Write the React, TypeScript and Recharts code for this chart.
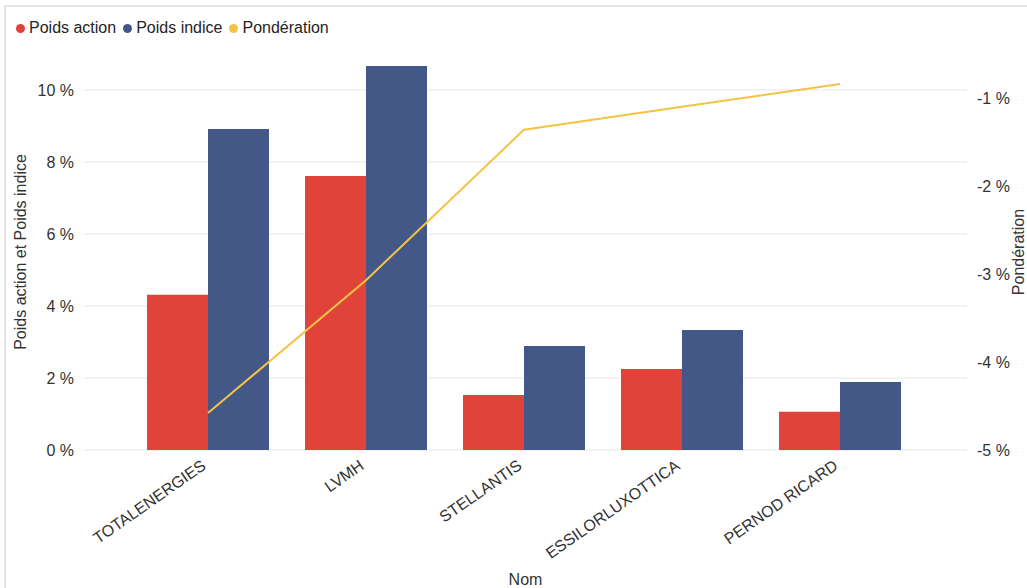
import React from "react";
import {
  ComposedChart,
  Bar,
  Line,
  XAxis,
  YAxis,
  CartesianGrid,
} from "recharts";

// valeurs
const noms = ["TOTALENERGIES", "LVMH", "STELLANTIS", "ESSILORLUXOTTICA", "PERNOD RICARD"];
const poidsAction = [4.31, 7.61, 1.53, 2.25, 1.06];
const poidsIndice = [8.92, 10.67, 2.89, 3.33, 1.89];
const ponderation = [-4.58, -3.07, -1.36, -1.1, -0.84];

const ticksGauche = [0, 2, 4, 6, 8, 10];
const ticksDroite = [-5, -4, -3, -2, -1];

const ROUGE = "#E0433A";
const BLEU = "#445887";
const JAUNE = "#F5C344";
const TEXTE = "#333333";
const FONT = "'Liberation Sans', Arial, sans-serif";

const data = noms.map((nom, i) => ({
  nom,
  action: poidsAction[i],
  indice: poidsIndice[i],
  ponderation: ponderation[i],
}));

const legende = [
  { label: "Poids action", color: ROUGE },
  { label: "Poids indice", color: BLEU },
  { label: "Pondération", color: JAUNE },
];

const XTick = ({ x, y, payload }: any) => {
  const px = x - 1;
  const py = y + 10;
  return (
    <text
      x={px}
      y={py}
      transform={`rotate(-35, ${px}, ${py})`}
      textAnchor="end"
      fontSize={16}
      fill={TEXTE}
      fontFamily={FONT}
    >
      {payload.value}
    </text>
  );
};

const LeftLabel = ({ viewBox }: any) => {
  const cy = viewBox.y + viewBox.height / 2;
  const cx = 20;
  return (
    <text
      x={cx}
      y={cy}
      transform={`rotate(-90, ${cx}, ${cy})`}
      textAnchor="middle"
      dominantBaseline="central"
      fontSize={16}
      fill={TEXTE}
      fontFamily={FONT}
    >
      Poids action et Poids indice
    </text>
  );
};

const RightLabel = ({ viewBox }: any) => {
  const cy = viewBox.y + viewBox.height / 2;
  const cx = 1018;
  return (
    <text
      x={cx}
      y={cy}
      transform={`rotate(-90, ${cx}, ${cy})`}
      textAnchor="middle"
      dominantBaseline="central"
      fontSize={16}
      fill={TEXTE}
      fontFamily={FONT}
    >
      Pondération
    </text>
  );
};

export default function App() {
  const tickStyle = { fill: TEXTE, fontSize: 16, fontFamily: FONT };

  return (
    <div
      style={{
        position: "absolute",
        top: 0,
        left: 0,
        width: 1027,
        height: 588,
        overflow: "hidden",
        background: "#fff",
        fontFamily: FONT,
      }}
    >
      {/* cadre du visuel */}
      <div
        style={{
          position: "absolute",
          left: 4,
          top: 5,
          width: 1100,
          height: 700,
          border: "2px solid #e4e4e4",
          boxSizing: "border-box",
        }}
      />

      {/* légende */}
      <div
        style={{
          position: "absolute",
          left: 16,
          top: 19,
          display: "flex",
          alignItems: "center",
          fontSize: 16,
          color: "#252423",
          whiteSpace: "nowrap",
        }}
      >
        {legende.map((l) => (
          <div key={l.label} style={{ display: "flex", alignItems: "center", marginRight: 7 }}>
            <span
              style={{
                display: "inline-block",
                width: 9,
                height: 9,
                borderRadius: "50%",
                background: l.color,
                marginRight: 4,
              }}
            />
            <span>{l.label}</span>
          </div>
        ))}
      </div>

      <div style={{ position: "absolute", left: 0, top: 0 }}>
        <ComposedChart
          width={1027}
          height={588}
          data={data}
          margin={{ top: 54, right: 0, bottom: 0, left: 0 }}
          barGap={0}
          barCategoryGap={18}
        >
          <CartesianGrid
            yAxisId="left"
            vertical={false}
            horizontalValues={ticksGauche}
            stroke="#efefef"
            strokeWidth={1.5}
          />
          <XAxis
            dataKey="nom"
            height={138}
            padding={{ left: 45, right: 48 }}
            axisLine={false}
            tickLine={false}
            interval={0}
            tick={<XTick />}
            label={{
              value: "Nom",
              position: "insideBottom",
              offset: 3,
              fill: TEXTE,
              fontSize: 16,
              fontFamily: FONT,
            }}
          />
          <YAxis
            yAxisId="left"
            orientation="left"
            width={84}
            domain={[0, 11]}
            ticks={ticksGauche}
            axisLine={false}
            tickLine={false}
            tickMargin={4}
            tick={tickStyle}
            tickFormatter={(v: number) => `${v} %`}
            label={<LeftLabel />}
          />
          <YAxis
            yAxisId="right"
            orientation="right"
            width={60}
            domain={[-5, -0.5]}
            ticks={ticksDroite}
            axisLine={false}
            tickLine={false}
            tickSize={8}
            tickMargin={2}
            tick={{ ...tickStyle, textAnchor: "start" }}
            tickFormatter={(v: number) => `${v} %`}
            label={<RightLabel />}
          />
          <Bar yAxisId="left" dataKey="action" name="Poids action" fill={ROUGE} isAnimationActive={false} />
          <Bar yAxisId="left" dataKey="indice" name="Poids indice" fill={BLEU} isAnimationActive={false} />
          <Line
            yAxisId="right"
            dataKey="ponderation"
            name="Pondération"
            type="linear"
            stroke={JAUNE}
            strokeWidth={2}
            dot={false}
            activeDot={false}
            isAnimationActive={false}
          />
        </ComposedChart>
      </div>
    </div>
  );
}
